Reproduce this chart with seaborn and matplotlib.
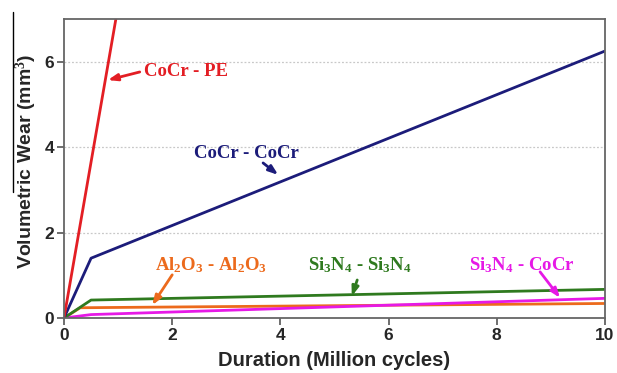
import matplotlib
matplotlib.use("Agg")
import matplotlib.pyplot as plt
from matplotlib.lines import Line2D
import seaborn as sns
import pandas as pd

# Data (Million cycles vs volumetric wear mm^3)
pe_x = [0, 1.0]
pe_y = [0, 7.3]
cocr_x = [0, 0.5, 10]
cocr_y = [0, 1.4, 6.25]
sisi_x = [0, 0.5, 10]
sisi_y = [0, 0.42, 0.67]
al_x = [0, 0.3, 10]
al_y = [0, 0.24, 0.34]
sicocr_x = [0, 0.5, 10]
sicocr_y = [0, 0.08, 0.46]

series_names = ["CoCr - PE", "CoCr - CoCr", "Si3N4 - Si3N4", "Al2O3 - Al2O3", "Si3N4 - CoCr"]
x_ticks = [0, 2, 4, 6, 8, 10]
y_ticks = [0, 2, 4, 6]

colors = {"CoCr - PE": "#e31e24", "CoCr - CoCr": "#1c1c7a", "Si3N4 - Si3N4": "#2f7a1f",
          "Al2O3 - Al2O3": "#ec6a1c", "Si3N4 - CoCr": "#e619e6"}

rows = []
for name, xs, ys in zip(series_names, [pe_x, cocr_x, sisi_x, al_x, sicocr_x],
                        [pe_y, cocr_y, sisi_y, al_y, sicocr_y]):
    for x, y in zip(xs, ys):
        rows.append({"series": name, "x": x, "y": y})
df = pd.DataFrame(rows)

sns.set_style("white")
plt.rcParams["font.family"] = ["Liberation Sans", "DejaVu Sans"]
plt.rcParams["mathtext.fontset"] = "custom"
plt.rcParams["mathtext.rm"] = "Liberation Serif:bold"
plt.rcParams["mathtext.default"] = "rm"

fig = plt.figure(figsize=(6.17, 3.73), dpi=100)
ax = fig.add_axes([64/617, 55/373, 541/617, 299/373])

ax.set_axisbelow(True)
for yv in [2, 4, 6]:
    ax.axhline(yv, color="#c8c8c8", lw=0.9, ls=(0, (1.5, 1.5)), zorder=0)

draw_order = ["Al2O3 - Al2O3", "Si3N4 - CoCr", "Si3N4 - Si3N4", "CoCr - CoCr", "CoCr - PE"]
for name in draw_order:
    sub = df[df.series == name]
    sns.lineplot(data=sub, x="x", y="y", ax=ax, color=colors[name], lw=2.0,
                 legend=False, estimator=None, sort=False)

ax.set_xlim(0, 10)
ax.set_ylim(0, 7)
ax.set_xticks(x_ticks)
ax.set_yticks(y_ticks)
ax.set_xticklabels([str(t) for t in x_ticks], fontweight="bold", fontsize=12.5)
ax.set_yticklabels([str(t) for t in y_ticks], fontweight="bold", fontsize=12.5)
ax.tick_params(axis="both", direction="out", length=5, width=1.2, color="#555555",
               bottom=True, left=True, pad=2)
for s in ax.spines.values():
    s.set_color("#666666")
    s.set_linewidth(1.3)

ax.set_xlabel("Duration (Million cycles)", fontweight="bold", fontsize=14.5, labelpad=6)
ax.set_ylabel("Volumetric Wear (mm$^3$)", fontweight="bold", fontsize=14, labelpad=6)
ax.yaxis.set_label_coords(-0.046, 0.525)

# decorative thin vertical rule at far left (as in the source image)
fig.add_artist(Line2D([13/617, 13/617], [1 - 12/373, 1 - 192/373], color="black", lw=1.0,
                      transform=fig.transFigure))

serif = ["Liberation Serif", "DejaVu Serif"]
annot_texts = ["CoCr - PE", "CoCr - CoCr", "Al$_2$O$_3$ - Al$_2$O$_3$",
               "Si$_3$N$_4$ - Si$_3$N$_4$", "Si$_3$N$_4$ - CoCr"]
annot_keys = ["CoCr - PE", "CoCr - CoCr", "Al2O3 - Al2O3", "Si3N4 - Si3N4", "Si3N4 - CoCr"]
text_pos = [(1.48, 5.76), (3.37, 3.84), (2.72, 1.24), (5.47, 1.24), (8.47, 1.24)]
text_ha = ["left", "center", "center", "center", "center"]
arrow_tail = [(1.40, 5.76), (3.68, 3.63), (2.00, 1.01), (5.42, 0.89), (8.80, 1.08)]
arrow_head = [(0.81, 5.57), (3.96, 3.35), (1.63, 0.30), (5.32, 0.51), (9.17, 0.47)]

for txt, key, tp, ha, tail, head in zip(annot_texts, annot_keys, text_pos, text_ha,
                                        arrow_tail, arrow_head):
    c = colors[key]
    ax.text(tp[0], tp[1], txt, ha=ha, va="center", color=c, fontsize=13.5,
            fontweight="bold", family=serif)
    ax.annotate("", xy=head, xytext=tail,
                arrowprops=dict(arrowstyle="-|>,head_length=0.55,head_width=0.2",
                                color=c, lw=2.0, shrinkA=0, shrinkB=0))

fig.savefig("out.png", dpi=100)
